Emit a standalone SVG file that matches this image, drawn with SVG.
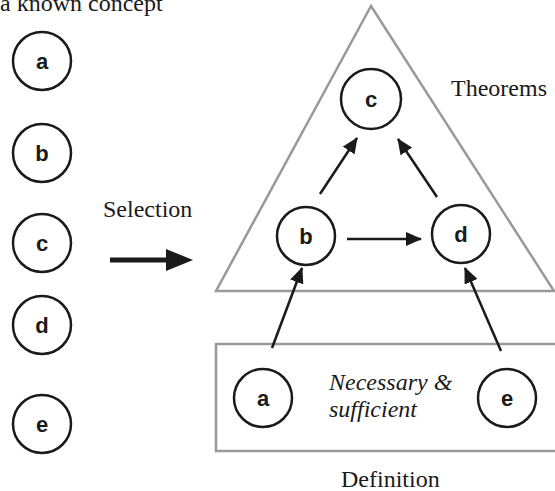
<svg xmlns="http://www.w3.org/2000/svg" width="555" height="491" viewBox="0 0 555 491">
<style>
.node circle{fill:#fff;stroke:#1a1a1a;stroke-width:2.5}
.node text{font-family:"Liberation Sans",Arial,sans-serif;font-weight:bold;font-size:22px;text-anchor:middle;fill:#1a1a1a}
.frame{fill:none;stroke:#999;stroke-width:2.5}
.edge{stroke:#1a1a1a;stroke-width:2.5;fill:none;marker-end:url(#ah)}
</style>
<defs>
<marker id="ah" viewBox="0 0 16 14" refX="15" refY="7" markerWidth="16" markerHeight="14" markerUnits="userSpaceOnUse" orient="auto">
<path d="M0,0 L16,7 L0,14 Z" fill="#1a1a1a"/>
</marker>
</defs>
<rect width="555" height="491" fill="#fff"/>
<g font-family="'Liberation Serif', 'Times New Roman', serif" font-size="24" fill="#1a1a1a">
<text x="0" y="11">a known concept</text>
<text x="451" y="96">Theorems</text>
<text x="103" y="217">Selection</text>
<text x="329" y="390" font-style="italic">Necessary &amp;</text>
<text x="329" y="417" font-style="italic">sufficient</text>
<text x="341" y="487">Definition</text>
</g>
<g id="frames">
<polygon class="frame" points="371,6 216,291 554,291"/>
<rect class="frame" x="216" y="344" width="345" height="107"/>
</g>
<g id="left-a" class="node"><circle cx="42" cy="61" r="29"/><text x="42" y="69">a</text></g>
<g id="left-b" class="node"><circle cx="42" cy="153" r="29"/><text x="42" y="161">b</text></g>
<g id="left-c" class="node"><circle cx="42" cy="243" r="29"/><text x="42" y="251">c</text></g>
<g id="left-d" class="node"><circle cx="42" cy="325" r="29"/><text x="42" y="333">d</text></g>
<g id="left-e" class="node"><circle cx="42" cy="424" r="29"/><text x="42" y="432">e</text></g>
<g id="tri-c" class="node"><circle cx="371" cy="99" r="30"/><text x="371" y="107">c</text></g>
<g id="tri-b" class="node"><circle cx="306" cy="236" r="29"/><text x="306" y="244">b</text></g>
<g id="tri-d" class="node"><circle cx="461" cy="234" r="29"/><text x="461" y="242">d</text></g>
<g id="def-a" class="node"><circle cx="263" cy="398" r="29"/><text x="263" y="406">a</text></g>
<g id="def-e" class="node"><circle cx="507" cy="398" r="29"/><text x="507" y="406">e</text></g>
<g id="connectors">
<line x1="110" y1="260" x2="170" y2="260" stroke="#1a1a1a" stroke-width="5"/>
<polygon points="166,249 193,260 166,271" fill="#1a1a1a"/>
<line class="edge" x1="320" y1="194" x2="357" y2="138"/>
<line class="edge" x1="437" y1="197" x2="398" y2="139"/>
<line class="edge" x1="347" y1="239" x2="421" y2="239"/>
<line class="edge" x1="272" y1="348" x2="302" y2="268"/>
<line class="edge" x1="501" y1="351" x2="465" y2="268"/>
</g>
</svg>
